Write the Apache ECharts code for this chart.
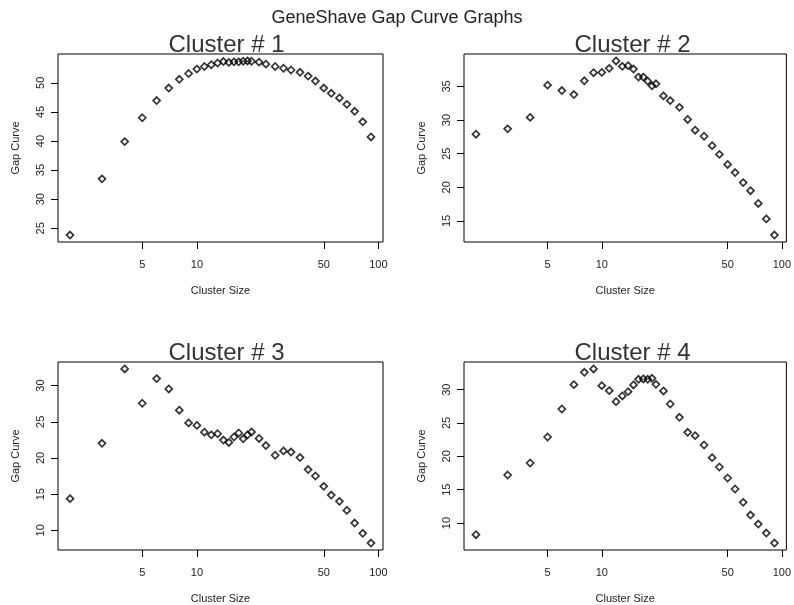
<!DOCTYPE html>
<html>
<head>
<meta charset="utf-8">
<script src="https://cdn.jsdelivr.net/npm/echarts@6/dist/echarts.min.js"></script>
<style>
html,body{margin:0;padding:0;background:#fff;}
#chart{width:794px;height:605px;}
</style>
</head>
<body>
<div id="chart"></div>
<script>
// ---- data ----
const mainTitle = 'GeneShave Gap Curve Graphs';
const panelTitles = ['Cluster # 1', 'Cluster # 2', 'Cluster # 3', 'Cluster # 4'];
const xName = 'Cluster Size';
const yName = 'Gap Curve';
const sizes = [2,3,4,5,6,7,8,9,10,11,12,13,14,15,16,17,18,19,20,22,24,27,30,33,37,41,45,50,55,61,67,74,82,91];
const gap1 = [23.85,33.5,39.9,44.0,46.95,49.1,50.6,51.6,52.35,52.8,53.1,53.4,53.65,53.5,53.6,53.6,53.7,53.75,53.7,53.55,53.2,52.8,52.5,52.2,51.8,51.15,50.3,49.1,48.2,47.4,46.3,45.1,43.3,40.7];
const gap2 = [27.9,28.7,30.4,35.2,34.4,33.8,35.85,37.05,37.1,37.7,38.8,38.0,38.1,37.6,36.4,36.4,35.8,35.1,35.4,33.6,32.9,31.9,30.1,28.5,27.6,26.2,24.9,23.4,22.2,20.7,19.5,17.6,15.3,12.9];
const gap3 = [14.38,22.03,32.3,27.56,30.97,29.54,26.6,24.85,24.5,23.57,23.2,23.35,22.48,22.15,22.9,23.45,22.65,23.2,23.6,22.7,21.72,20.38,20.98,20.82,20.06,18.4,17.51,16.08,14.88,14.01,12.76,11.01,9.59,8.25];
const gap4 = [8.25,17.2,19.0,22.9,27.1,30.75,32.6,33.1,30.6,29.85,28.2,29.05,29.7,30.7,31.55,31.6,31.55,31.7,30.8,29.8,27.85,25.85,23.6,23.1,21.7,19.8,18.4,16.75,15.1,13.1,11.2,9.85,8.5,7.0];
const gaps = [gap1, gap2, gap3, gap4];
const xTicks = [5, 10, 50, 100];
const yTicks = [[25,30,35,40,45,50],[15,20,25,30,35],[10,15,20,25,30],[10,15,20,25,30]];

// ---- layout ----
const lefts = [58, 464, 58, 464];
const tops = [54, 54, 362, 362];
const W = 325, H = 188;
const FONT = '"Liberation Sans", Arial, Helvetica, sans-serif';
const TXT = '#222';

// R-style 4% padding
function padLin(arr){ const mn=Math.min(...arr), mx=Math.max(...arr), s=mx-mn; return [mn-0.04*s, mx+0.04*s]; }
function padLog(arr){ const a=Math.log10(Math.min(...arr)), b=Math.log10(Math.max(...arr)), s=b-a; return [Math.pow(10,a-0.04*s), Math.pow(10,b+0.04*s)]; }
const xr = padLog(sizes);

const grid=[], xAxis=[], yAxis=[], series=[], graphic=[];
graphic.push({type:'text', x:397, y:18, style:{text:mainTitle, fontSize:18, fontFamily:FONT, fill:TXT, align:'center', verticalAlign:'middle'}});
for (let i=0;i<4;i++){
  grid.push({left:lefts[i], top:tops[i], width:W, height:H, show:true, borderColor:'#000', borderWidth:1, backgroundColor:'transparent', containLabel:false});
  xAxis.push({
    type:'log', gridIndex:i, min:xr[0], max:xr[1], logBase:10,
    name:xName, nameLocation:'middle', nameGap:43,
    nameTextStyle:{fontSize:11, fontFamily:FONT, color:TXT},
    axisLine:{show:false},
    axisTick:{show:true, inside:false, length:7, lineStyle:{color:'#000'}, customValues:xTicks},
    axisLabel:{show:true, margin:17, fontSize:11, fontFamily:FONT, color:TXT, customValues:xTicks, formatter:v=>String(v)},
    splitLine:{show:false}, minorTick:{show:false}
  });
  const yr = padLin(gaps[i]);
  yAxis.push({
    type:'value', gridIndex:i, min:yr[0], max:yr[1],
    name:yName, nameLocation:'middle', nameGap:37, nameRotate:90,
    nameTextStyle:{fontSize:11, fontFamily:FONT, color:TXT},
    axisLine:{show:false},
    axisTick:{show:true, inside:false, length:7, lineStyle:{color:'#000'}, customValues:yTicks[i]},
    axisLabel:{show:true, rotate:90, margin:12, fontSize:11, fontFamily:FONT, color:TXT, customValues:yTicks[i], formatter:v=>String(v)},
    splitLine:{show:false}
  });
  series.push({
    type:'scatter', xAxisIndex:i, yAxisIndex:i,
    data:sizes.map((s,k)=>[s, gaps[i][k]]),
    symbol:'diamond', symbolSize:7,
    itemStyle:{color:'rgba(255,255,255,0)', borderColor:'#000', borderWidth:1.7},
    emphasis:{disabled:true}, silent:true
  });
  graphic.push({type:'text', x:lefts[i]+W/2+6, y:tops[i]-9, z:100, style:{text:panelTitles[i], fontSize:24, fontFamily:FONT, fill:'#333', align:'center', verticalAlign:'middle'}});
}

const chart = echarts.init(document.getElementById('chart'), null, {renderer:'canvas'});
chart.setOption({animation:false, backgroundColor:'#fff', grid, xAxis, yAxis, series, graphic});
</script>
</body>
</html>
